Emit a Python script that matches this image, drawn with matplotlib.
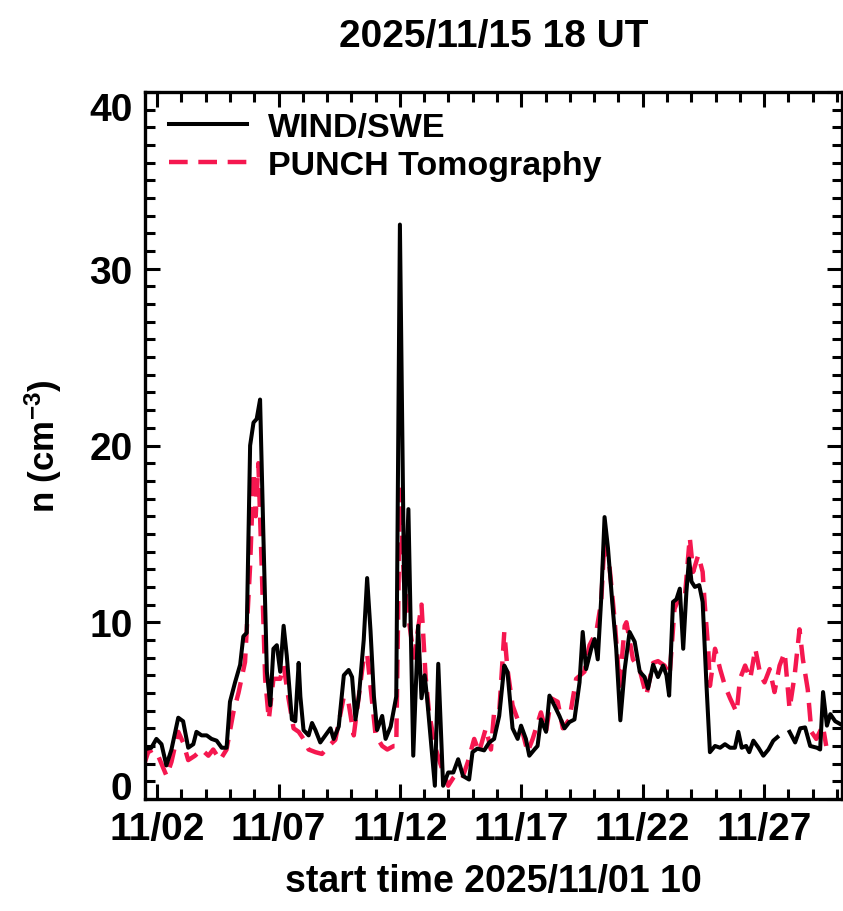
import numpy as np
import matplotlib
matplotlib.use("Agg")
import matplotlib.pyplot as plt
from matplotlib import font_manager
from matplotlib.ticker import MultipleLocator, FixedLocator

# ---------------- data (days since 2025/11/01 00 UT) ----------------
wind_day = [0.45, 0.76, 0.97, 1.18, 1.38, 1.59, 1.87, 2.07, 2.28, 2.49, 2.62, 2.83, 3.04, 3.24,
            3.45, 3.66, 3.86, 4.00, 4.21, 4.42, 4.55, 4.69, 4.83, 4.97, 5.10, 5.24, 5.38, 5.52,
            5.66, 5.79, 5.93, 6.07, 6.21, 6.34, 6.55, 6.69, 6.83, 6.90, 7.03, 7.24, 7.38, 7.52,
            7.72, 7.93, 8.14, 8.27, 8.48, 8.69, 8.89, 9.03, 9.17, 9.31, 9.51, 9.65, 9.79, 9.93,
            10.06, 10.27, 10.41, 10.62, 10.85, 11.00, 11.19, 11.35, 11.55, 11.75, 11.89, 12.02,
            12.12, 12.44, 12.58, 12.78, 12.99, 13.20, 13.40, 13.60, 13.85, 13.99, 14.19, 14.47,
            14.68, 14.88, 15.09, 15.30, 15.43, 15.64, 15.85, 15.99, 16.19, 16.33, 16.54, 16.67,
            16.81, 17.02, 17.16, 17.36, 17.57, 17.78, 17.98, 18.19, 18.40, 18.53, 18.67, 18.88,
            19.02, 19.15, 19.29, 19.43, 19.57, 19.77, 19.91, 20.08, 20.26, 20.46, 20.67, 20.88,
            21.08, 21.22, 21.43, 21.63, 21.84, 21.98, 22.09, 22.25, 22.39, 22.53, 22.67, 22.80,
            22.91, 23.01, 23.15, 23.33, 23.47, 23.63, 23.77, 23.98, 24.19, 24.39, 24.60, 24.80,
            24.94, 25.08, 25.26, 25.39, 25.56, 25.77, 25.97, 26.18, 26.38, 26.55, 26.80, 27.05,
            27.28, 27.49, 27.69, 27.90, 28.18, 28.31, 28.43, 28.59, 28.73, 28.93, 29.19]
wind_n = [2.8, 2.9, 3.4, 3.1, 1.9, 2.8, 4.6, 4.4, 2.9, 3.1, 3.8, 3.6, 3.6, 3.4,
          3.3, 2.9, 2.9, 5.5, 6.6, 7.6, 9.2, 9.4, 20.0, 21.3, 21.5, 22.6, 14.7, 7.2,
          5.3, 8.5, 8.7, 7.2, 9.8, 8.1, 4.5, 4.4, 7.7, 5.8, 3.9, 3.6, 4.3, 3.9,
          3.2, 3.6, 4.0, 3.4, 4.1, 7.0, 7.3, 6.9, 4.5, 5.8, 9.0, 12.5, 9.5, 5.8,
          3.9, 4.7, 3.4, 4.1, 5.8, 32.5, 9.8, 16.4, 2.45, 9.8, 5.7, 7.0,
          5.7, 0.75, 7.65, 0.75, 1.5, 1.5, 2.25, 1.3, 1.1, 2.65, 2.85, 2.75,
          3.2, 3.4, 4.7, 7.55, 7.2, 4.0, 3.4, 4.15, 3.4, 2.45, 2.8, 3.0,
          4.5, 3.8, 5.85, 5.3, 4.7, 4.0, 4.35, 4.5, 6.6, 9.45, 7.35, 8.5,
          9.05, 7.9, 11.3, 15.95, 14.2, 10.75, 8.5, 4.45, 7.35, 9.45, 8.9, 7.2,
          6.9, 6.25, 7.6, 6.9, 7.55, 7.0, 5.85, 11.15, 11.3, 11.9, 8.5, 11.7,
          13.6, 12.3, 12.0, 12.1, 11.15, 6.4, 2.65, 3.0, 2.9, 3.1, 2.9, 2.9,
          3.8, 2.9, 3.0, 2.65, 3.3, 2.9, 2.45, 2.8, 3.3, 3.5, np.nan, 3.8,
          3.2, 4.0, 4.05, 3.0, 2.9, 2.8, 6.05, 4.15, 4.8, 4.4, 4.2]

punch_day = [0.45, 0.63, 0.83, 1.04, 1.39, 1.59, 1.87, 2.07, 2.28, 2.56, 2.83, 3.11, 3.31, 3.59,
             3.86, 4.14, 4.35, 4.62, 4.83, 4.97, 5.06, 5.17, 5.31, 5.45, 5.60, 5.79, 6.07, 6.21,
             6.41, 6.62, 6.83, 7.03, 7.24, 7.52, 7.79, 8.07, 8.34, 8.69, 8.89, 9.10, 9.51, 9.65,
             10.00, 10.27, 10.48, 10.75, 10.85, 11.00, 11.17, 11.37, 11.58, 11.89, 12.06, 12.20,
             12.44, 12.78, 12.99, 13.20, 13.40, 13.60, 13.80, 14.06, 14.26, 14.54, 14.75, 14.88,
             15.09, 15.30, 15.43, 15.64, 15.85, 16.05, 16.26, 16.47, 16.81, 17.02, 17.23, 17.50,
             17.71, 17.98, 18.26, 18.60, 18.81, 19.09, 19.29, 19.43, 19.63, 19.84, 20.05, 20.26,
             20.33, 20.60, 20.88, 21.15, 21.43, 21.63, 21.90, 22.11, 22.31, 22.53, 22.73, 22.94,
             23.08, 23.29, 23.47, 23.56, 23.70, 23.77, 23.98, 24.19, 24.39, 24.60, 24.87, 25.01,
             25.22, 25.43, 25.64, 25.85, 26.02, 26.23, 26.43, 26.64, 26.85, 27.05, 27.26, 27.46,
             27.60, 27.80, 27.95, 28.15, 28.42, 28.56]
punch_n = [1.9, 2.65, 2.8, 2.45, 1.3, 2.1, 3.8, 3.2, 2.2, 2.45, 2.8, 2.45, 2.8, 2.2,
           2.8, 4.9, 6.0, 7.75, 13.2, 18.5, 16.0, 19.0, 13.0, 6.8, 4.5, 6.8, 6.8, 7.55,
           5.7, 4.0, 3.8, 3.4, 2.8, 2.65, 2.55, 3.0, 3.35, 5.8, 5.4, 3.6, 8.0, 8.2,
           3.6, 3.0, 2.8, 3.0, 3.0, 17.5, 12.3, 10.1, 8.0, 11.0, 6.9, 4.9,
           3.0, 1.5, 0.75, 1.2, 1.5, 1.3, 2.1, 3.4, 2.65, 4.0, 2.8, 4.9,
           4.9, 9.45, 7.35, 5.3, 4.5, 3.8, 2.65, 3.4, 4.9, 3.8, 5.7, 5.5,
           4.0, 4.5, 6.8, 7.2, 8.7, 9.45, 11.15, 14.7, 13.2, 10.2, 6.4, 9.8,
           10.0, 7.9, 7.3, 5.85, 7.7, 7.8, 7.55, 7.0, 10.75, 11.5, 11.3, 14.8,
           12.85, 13.8, 12.85, 10.95, 8.5, 6.4, 8.5, 7.35, 6.4, 5.7, 4.9, 6.8,
           7.55, 6.8, 8.5, 7.0, 6.6, 7.35, 6.05, 7.55, 8.3, 5.1, 7.0, 9.6,
           7.9, 6.2, 3.8, 3.4, 4.15, 3.0]

xtick_pos = [1, 6, 11, 16, 21, 26]
xtick_labels = ["11/02", "11/07", "11/12", "11/17", "11/22", "11/27"]
ytick_pos = [0, 10, 20, 30, 40]

title = "2025/11/15 18 UT"
xlabel = "start time 2025/11/01 10"
ylabel = r"n (cm$^{\mathbf{-3}}$)"

# ---------------- fonts ----------------
avail = {f.name for f in font_manager.fontManager.ttflist}
fam = "Liberation Sans Narrow" if "Liberation Sans Narrow" in avail else "Liberation Sans"
plt.rcParams["font.family"] = [fam, "DejaVu Sans"]
plt.rcParams["font.weight"] = "bold"
plt.rcParams["mathtext.fontset"] = "custom"
plt.rcParams["mathtext.rm"] = fam + ":bold"
plt.rcParams["mathtext.bf"] = fam + ":bold"
plt.rcParams["mathtext.default"] = "bf"

fig = plt.figure(figsize=(8.43, 9.12), dpi=100)
ax = fig.add_axes([145 / 843, 1 - 800 / 912, (841.5 - 145) / 843, (800 - 93) / 912])

ax.plot(wind_day, wind_n, color="black", lw=2.9, label="WIND/SWE", zorder=3)
ax.plot(punch_day, punch_n, color="#F5174F", lw=3.2, dashes=(4.2, 2.4),
        label="PUNCH Tomography", zorder=2)

ax.set_xlim(0.5, 29.19)
ax.set_ylim(0, 40)

ax.xaxis.set_major_locator(FixedLocator(xtick_pos))
ax.xaxis.set_minor_locator(MultipleLocator(1))
ax.set_xticklabels(xtick_labels)
ax.yaxis.set_major_locator(FixedLocator(ytick_pos))
ax.yaxis.set_minor_locator(MultipleLocator(1))

ax.tick_params(which="both", direction="in", top=True, right=True, width=2.2,
               labelsize=28, pad=9)
ax.tick_params(which="major", length=11)
ax.tick_params(which="minor", length=7)
for sp in ax.spines.values():
    sp.set_linewidth(2.4)

ylabs = ax.get_yticklabels()
ylabs[0].set_va("baseline")
ylabs[-1].set_va("top")
for lab in ax.get_xticklabels() + ylabs:
    lab.set_fontweight("bold")

ax.set_title(title, fontsize=28, fontweight="bold", pad=33)
ax.set_xlabel(xlabel, fontsize=27, fontweight="bold", labelpad=11)
ax.set_ylabel(ylabel, fontsize=25, fontweight="bold", labelpad=18)

leg = ax.legend(loc="upper left", frameon=False, fontsize=24.5, handlelength=2.3,
                handletextpad=0.6, borderaxespad=0.3, labelspacing=0.2,
                bbox_to_anchor=(0.0, 1.005))
for t in leg.get_texts():
    t.set_fontweight("bold")

fig.savefig("out.png", dpi=100)
